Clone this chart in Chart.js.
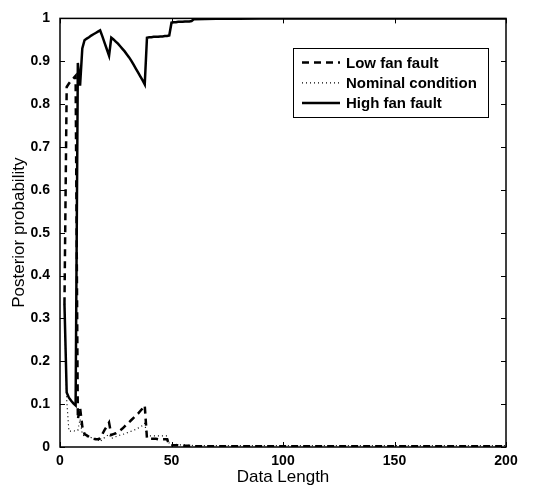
<!DOCTYPE html>
<html><head><meta charset="utf-8">
<script src="https://cdn.jsdelivr.net/npm/chart.js@4.4.1/dist/chart.umd.min.js"></script>
<style>html,body{margin:0;padding:0;background:#fff}#wrap{width:548px;height:488px;position:relative}</style>
</head><body><div id="wrap"><canvas id="c" width="548" height="488"></canvas></div>
<script>
const dataLength = [2,3,4,5,6,7,8,9,10,11,12,13,14,15,16,17,18,19,20,21,22,23,24,25,26,27,28,29,30,31,32,33,34,35,36,37,38,39,40,41,42,43,44,45,46,47,48,49,50,51,52,53,54,55,56,57,58,59,60,70,80,90,100,110,120,130,140,150,160,170,180,190,200];
const lowFan = [0.333,0.840,0.848,0.855,0.860,0.866,0.065,0.092,0.048,0.030,0.027,0.024,0.021,0.019,0.018,0.018,0.020,0.030,0.040,0.048,0.057,0.028,0.030,0.032,0.035,0.039,0.043,0.048,0.053,0.058,0.063,0.068,0.073,0.078,0.084,0.090,0.097,0.020,0.019,0.019,0.019,0.019,0.018,0.018,0.018,0.018,0.018,0.005,0.004,0.004,0.004,0.004,0.003,0.003,0.003,0.003,0.003,0.003,0.002,0.002,0.002,0.002,0.002,0.002,0.002,0.002,0.002,0.002,0.002,0.002,0.002,0.002,0.002];
const nominal = [0.333,0.110,0.037,0.037,0.038,0.037,0.039,0.065,0.030,0.025,0.024,0.023,0.022,0.021,0.020,0.017,0.012,0.018,0.022,0.026,0.030,0.020,0.022,0.024,0.026,0.028,0.029,0.031,0.033,0.035,0.037,0.039,0.041,0.044,0.047,0.050,0.055,0.026,0.026,0.026,0.026,0.026,0.026,0.026,0.026,0.026,0.026,0.008,0.006,0.006,0.006,0.005,0.005,0.005,0.005,0.004,0.004,0.004,0.003,0.003,0.003,0.003,0.003,0.003,0.003,0.003,0.003,0.003,0.003,0.003,0.003,0.003,0.003];
const highFan = [0.334,0.127,0.115,0.108,0.102,0.097,0.896,0.843,0.930,0.949,0.953,0.956,0.960,0.963,0.966,0.969,0.972,0.958,0.943,0.928,0.913,0.955,0.951,0.946,0.941,0.935,0.929,0.923,0.916,0.909,0.901,0.892,0.883,0.874,0.865,0.856,0.846,0.955,0.956,0.956,0.957,0.957,0.957,0.958,0.958,0.959,0.959,0.960,0.990,0.991,0.991,0.992,0.992,0.992,0.993,0.993,0.993,0.994,0.998,0.999,0.999,1.000,1.000,1.000,1.000,1.000,1.000,1.000,1.000,1.000,1.000,1.000,1.000];
const seriesNames = ['Low fan fault','Nominal condition','High fan fault'];
const xTickValues = [0,50,100,150,200];
const xTickLabels = ['0','50','100','150','200'];
const yTickValues = [0,0.1,0.2,0.3,0.4,0.5,0.6,0.7,0.8,0.9,1];
const yTickLabels = ['0','0.1','0.2','0.3','0.4','0.5','0.6','0.7','0.8','0.9','1'];
const xTitle = 'Data Length';
const yTitle = 'Posterior probability';

const FONT = '"Liberation Sans", Arial, Helvetica, sans-serif';
const pts = arr => dataLength.map((x,i)=>({x:x,y:arr[i]}));

const boxPlugin = {
  id:'box',
  afterDraw(chart){
    const {ctx, chartArea:a, scales} = chart;
    ctx.save();
    ctx.strokeStyle='#000'; ctx.lineWidth=1.5; ctx.setLineDash([]);
    ctx.strokeRect(a.left, a.top, a.right-a.left, a.bottom-a.top);
    ctx.lineWidth=1;
    const tl=5;
    ctx.beginPath();
    xTickValues.forEach(v=>{
      const px=Math.round(scales.x.getPixelForValue(v))+0.5;
      ctx.moveTo(px,a.bottom); ctx.lineTo(px,a.bottom-tl);
      ctx.moveTo(px,a.top); ctx.lineTo(px,a.top+tl);
    });
    yTickValues.forEach(v=>{
      const py=Math.round(scales.y.getPixelForValue(v))+0.5;
      ctx.moveTo(a.left,py); ctx.lineTo(a.left+tl,py);
      ctx.moveTo(a.right,py); ctx.lineTo(a.right-tl,py);
    });
    ctx.stroke();
    // legend
    const lx=293.5, ly=48.5, lw=195, lh=69;
    ctx.fillStyle='#fff'; ctx.fillRect(lx,ly,lw,lh);
    ctx.strokeStyle='#000'; ctx.lineWidth=1; ctx.strokeRect(lx,ly,lw,lh);
    chart.data.datasets.forEach((ds,i)=>{
      const y=62.5+i*20.3;
      ctx.beginPath();
      ctx.setLineDash(ds.borderDash||[]);
      ctx.lineWidth=ds.borderWidth; ctx.strokeStyle=ds.borderColor;
      ctx.moveTo(302,y); ctx.lineTo(340,y); ctx.stroke();
      ctx.setLineDash([]);
      ctx.fillStyle='#000'; ctx.font='bold 15px '+FONT;
      ctx.textBaseline='middle'; ctx.textAlign='left';
      ctx.fillText(ds.label,346,y+1);
    });
    ctx.restore();
  }
};

new Chart(document.getElementById('c'),{
  type:'line',
  data:{datasets:[
    {label:seriesNames[0],data:pts(lowFan),borderColor:'#000',borderWidth:2.5,borderDash:[7,5],pointRadius:0,fill:false,tension:0},
    {label:seriesNames[1],data:pts(nominal),borderColor:'#000',borderWidth:1.2,borderDash:[1,3],pointRadius:0,fill:false,tension:0},
    {label:seriesNames[2],data:pts(highFan),borderColor:'#000',borderWidth:2.5,pointRadius:0,fill:false,tension:0}
  ]},
  options:{
    responsive:false, animation:false, devicePixelRatio:1,
    layout:{padding:{top:13,right:42,left:0,bottom:0}},
    plugins:{legend:{display:false},tooltip:{enabled:false}},
    scales:{
      x:{type:'linear',min:0,max:200,
        afterBuildTicks:s=>{s.ticks=xTickValues.map(v=>({value:v}));},
        afterFit:s=>{s.height=41;},
        grid:{display:false,drawTicks:false},border:{display:false},
        ticks:{padding:6,color:'#000',font:{family:FONT,size:14,weight:'bold'},maxRotation:0,
          callback:(v)=>xTickLabels[xTickValues.indexOf(v)]},
        title:{display:true,text:xTitle,color:'#000',font:{family:FONT,size:17},padding:{top:0,bottom:0}}},
      y:{type:'linear',min:0,max:1,
        afterBuildTicks:s=>{s.ticks=yTickValues.map(v=>({value:v}));},
        afterFit:s=>{s.width=60;},
        grid:{display:false,drawTicks:false},border:{display:false},
        ticks:{padding:10,color:'#000',font:{family:FONT,size:14,weight:'bold'},
          callback:(v)=>{const i=yTickValues.findIndex(t=>Math.abs(t-v)<1e-9);return yTickLabels[i];}},
        title:{display:true,text:yTitle,color:'#000',font:{family:FONT,size:17},padding:{top:9,bottom:0}}}
    }
  },
  plugins:[boxPlugin]
});
</script></body></html>
